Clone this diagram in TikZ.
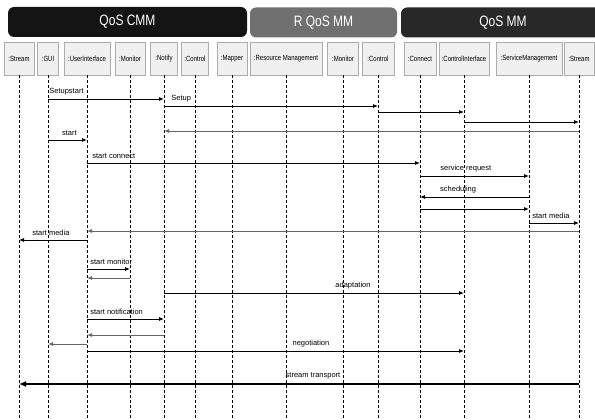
\documentclass[tikz,border=0pt]{standalone}
\usepackage{fontspec}
\setmainfont{Liberation Sans}
\newfontfamily\condensed{Liberation Sans}[FakeStretch=0.8]
\usepackage{tikz}
\usetikzlibrary{arrows.meta}

\definecolor{bandcmm}{HTML}{141414}
\definecolor{bandr}{HTML}{707070}
\definecolor{bandmm}{HTML}{282828}

\begin{document}
\begin{tikzpicture}[x=1pt, y=-1pt,
    band/.style={rectangle, rounded corners=6pt, text=white, minimum height=30pt,
                 font=\condensed\fontsize{15}{17}\selectfont},
    obj/.style={rectangle, draw=gray!65, fill=gray!12, line width=0.6pt,
                minimum height=33pt, inner sep=1pt, font=\condensed\fontsize{7.5}{9}\selectfont},
    life/.style={dashed, dash pattern=on 3pt off 2pt, line width=0.6pt},
    msg/.style={-{Latex[length=5pt, width=4pt]}, line width=0.8pt},
    ret/.style={-{Latex[length=5pt, width=4pt]}, line width=0.9pt, color=black!60},
    lbl/.style={font=\fontsize{7.5}{9}\selectfont, inner sep=1pt, above=3pt}
]
\useasboundingbox (0,0) rectangle (595,420);
\clip (0,0) rectangle (595,420);

% subsystem bands
\node[band, fill=bandcmm, minimum width=239pt] (cmm)   at (127.5,22) {QoS CMM};
\node[band, fill=bandr,   minimum width=147pt] (rqos)  at (323.5,22.5) {R QoS MM};
\node[band, fill=bandmm,  minimum width=204pt] (qosmm) at (503,22.5) {QoS MM};

% objects
\node[obj, minimum width=30pt] (stream)   at (19,58.5)  {:Stream};
\node[obj, minimum width=21pt] (gui)      at (48,58.5)  {:GUI};
\node[obj, minimum width=46pt] (ui)       at (87,58.5)  {:UserInterface};
\node[obj, minimum width=30pt] (mon)      at (130,58.5) {:Monitor};
\node[obj, minimum width=27pt] (notify)   at (164,58.5) {:Notify};
\node[obj, minimum width=27pt] (ctrl)     at (195,58.5) {:Control};
\node[obj, minimum width=30pt] (mapper)   at (232,58.5) {:Mapper};
\node[obj, minimum width=72pt] (resmgmt)  at (286,58.5) {:Resource Management};
\node[obj, minimum width=31pt] (rmon)     at (343,58.5) {:Monitor};
\node[obj, minimum width=32pt] (rctrl)    at (378,58.5) {:Control};
\node[obj, minimum width=32pt] (connect)  at (420,58.5) {:Connect};
\node[obj, minimum width=50pt] (ctrlif)   at (464,58.5) {:ControlInterface};
\node[obj, minimum width=66pt] (servmgmt) at (529,58.5) {:ServiceManagement};
\node[obj, minimum width=30pt] (stream2)  at (579,58.5) {:Stream};

% lifelines
\foreach \n in {stream,gui,ui,mon,notify,ctrl,mapper,resmgmt,rmon,rctrl,connect,ctrlif,servmgmt,stream2}
  \draw[life] (\n.south) -- (\n |- 0,420);

% setup
\draw[msg] (gui |- 0,99)      -- node[lbl, pos=0, anchor=south west]{Setupstart} (notify |- 0,99);
\draw[msg] (notify |- 0,106)  -- node[lbl, pos=0, anchor=south west, xshift=6pt]{Setup} (rctrl |- 0,106);
\draw[msg] (rctrl |- 0,112)   -- (ctrlif |- 0,112);
\draw[msg] (ctrlif |- 0,122)  -- (stream2 |- 0,122);
\draw[ret] (stream2 |- 0,131) -- (notify |- 0,131);

% connect and scheduling
\draw[msg] (gui |- 0,140)      -- node[lbl, pos=0.55]{start} (ui |- 0,140);
\draw[msg] (ui |- 0,163)       -- node[lbl, pos=0, anchor=south west, xshift=4pt]{start connect} (connect |- 0,163);
\draw[msg] (connect |- 0,176)  -- node[lbl, pos=0.42]{service request} (servmgmt |- 0,176);
\draw[msg] (servmgmt |- 0,197) -- node[lbl, pos=0.65]{scheduling} (connect |- 0,197);
\draw[msg] (connect |- 0,209)  -- (servmgmt |- 0,209);
\draw[msg] (servmgmt |- 0,223) -- node[lbl, pos=0, anchor=south west, xshift=2pt]{start media} (stream2 |- 0,223);
\draw[ret] (stream2 |- 0,231)  -- (ui |- 0,231);
\draw[msg] (ui |- 0,240)       -- node[lbl, pos=0.53]{start media} (stream |- 0,240);

% monitoring, adaptation, negotiation
\draw[msg] (ui |- 0,269)     -- node[lbl, pos=0, anchor=south west, xshift=2pt]{start monitor} (mon |- 0,269);
\draw[ret] (mon |- 0,278)    -- (ui |- 0,278);
\draw[msg] (notify |- 0,293) -- node[lbl, pos=0.63]{adaptation} (ctrlif |- 0,293);
\draw[msg] (ui |- 0,319)     -- node[lbl, pos=0, anchor=south west, xshift=2pt]{start notification} (notify |- 0,319);
\draw[ret] (notify |- 0,335) -- (ui |- 0,335);
\draw[ret] (ui |- 0,344)     -- (gui |- 0,344);
\draw[msg] (ui |- 0,351)     -- node[lbl, pos=0.594]{negotiation} (ctrlif |- 0,351);

% media stream
\draw[msg, line width=2.5pt, -{Latex[length=7pt, width=6pt]}] (stream2 |- 0,384) -- node[lbl, pos=0.475]{stream transport} (stream |- 0,384);

\end{tikzpicture}
\end{document}
